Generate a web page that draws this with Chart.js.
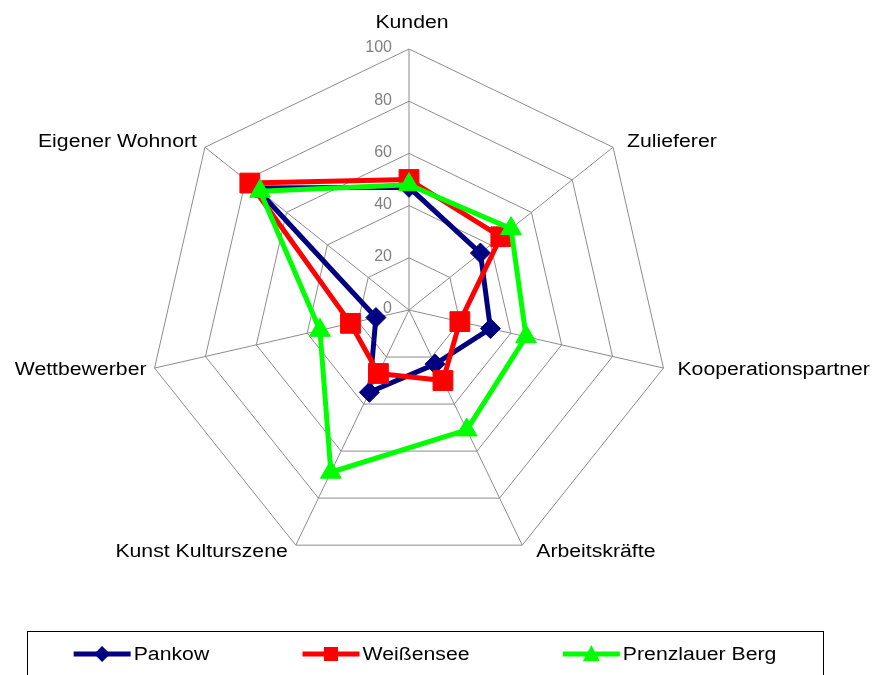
<!DOCTYPE html>
<html><head><meta charset="utf-8">
<script src="https://cdn.jsdelivr.net/npm/chart.js@4.4.0/dist/chart.umd.min.js"></script>
<style>html,body{margin:0;padding:0;background:#fff;} #wrap{width:877px;height:675px;overflow:hidden;}</style>
</head><body><div id="wrap"><canvas id="c" width="877" height="675"></canvas></div>
<script>
const categories = ['Kunden', 'Zulieferer', 'Kooperationspartner', 'Arbeitskräfte', 'Kunst Kulturszene', 'Wettbewerber', 'Eigener Wohnort'];
const seriesNames = ['Pankow', 'Weißensee', 'Prenzlauer Berg'];
const pankow = [47, 35, 32, 23, 35, 13, 75];
const weissensee = [50, 45, 20, 30, 27, 23, 78];
const prenzlauer = [48, 50, 46, 51, 69, 35, 73];
const tickValues = [0, 20, 40, 60, 80, 100];

const FONT = '"Liberation Sans", Arial, sans-serif';
const STRETCH = 1.18;

function drawStretched(ctx, text, x, y, align, sx) {
  const w = ctx.measureText(text).width * sx;
  let left = x;
  if (align === 'center') left = x - w / 2;
  else if (align === 'right') left = x - w;
  ctx.save();
  ctx.translate(left, y);
  ctx.scale(sx, 1);
  ctx.textAlign = 'left';
  ctx.fillText(text, 0, 0);
  ctx.restore();
}

function drawMarker(ctx, style, x, y, r, color) {
  ctx.save();
  ctx.fillStyle = color;
  ctx.beginPath();
  if (style === 'rectRot') {
    ctx.moveTo(x - r, y); ctx.lineTo(x, y - r); ctx.lineTo(x + r, y); ctx.lineTo(x, y + r);
  } else if (style === 'rect') {
    ctx.rect(x - r, y - r, 2 * r, 2 * r);
  } else {
    ctx.moveTo(x, y - r); ctx.lineTo(x + r * 0.95, y + r * 0.8); ctx.lineTo(x - r * 0.95, y + r * 0.8);
  }
  ctx.closePath();
  ctx.fill();
  ctx.restore();
}

const axisTextPlugin = {
  id: 'axisText',
  beforeDatasetsDraw(chart) {
    const s = chart.scales.r;
    const ctx = chart.ctx;
    ctx.save();
    // tick labels
    ctx.font = '16px ' + FONT;
    ctx.fillStyle = '#808080';
    ctx.textAlign = 'right';
    ctx.textBaseline = 'middle';
    s.ticks.forEach(t => {
      const d = s.getDistanceFromCenterForValue(t.value);
      ctx.fillText(String(t.value), s.xCenter - 17, s.yCenter - d - 1);
    });
    // category labels
    ctx.font = '18px ' + FONT;
    ctx.fillStyle = '#000';
    chart.data.labels.forEach((lab, i) => {
      const p = s.getPointPosition(i, s.drawingArea);
      const ux = (p.x - s.xCenter) / s.drawingArea;
      const uy = (p.y - s.yCenter) / s.drawingArea;
      if (Math.abs(ux) < 0.05) {
        ctx.textBaseline = 'alphabetic';
        drawStretched(ctx, lab, p.x + 3, p.y - 21, 'center', STRETCH);
      } else {
        ctx.textBaseline = 'middle';
        const gapX = ux > 0 ? 14 : 8;
        drawStretched(ctx, lab, p.x + Math.sign(ux) * gapX, p.y + uy * 8, ux > 0 ? 'left' : 'right', STRETCH);
      }
    });
    ctx.restore();
  },
  afterDraw(chart) {
    const ctx = chart.ctx;
    const boxL = 27, boxR = 823, boxT = 631, boxB = 700;
    ctx.save();
    ctx.strokeStyle = '#000';
    ctx.lineWidth = 1;
    ctx.strokeRect(boxL + 0.5, boxT + 0.5, boxR - boxL, boxB - boxT);
    ctx.font = '18px ' + FONT;
    ctx.fillStyle = '#000';
    ctx.textBaseline = 'middle';
    const lineLen = 57, gap = 3;
    const items = chart.data.datasets.map(ds => ({ ds, w: lineLen + gap + ctx.measureText(ds.label).width * STRETCH }));
    const total = items.reduce((a, b) => a + b.w, 0);
    const sp = (boxR - boxL - total) / items.length;
    let x = boxL + sp / 2;
    const y = 654;
    items.forEach(it => {
      ctx.strokeStyle = it.ds.borderColor;
      ctx.lineWidth = 5;
      ctx.lineCap = 'butt';
      ctx.beginPath(); ctx.moveTo(x, y); ctx.lineTo(x + lineLen, y); ctx.stroke();
      drawMarker(ctx, it.ds.pointStyle, x + lineLen / 2, y, it.ds.legendMarker, it.ds.borderColor);
      ctx.fillStyle = '#000';
      drawStretched(ctx, it.ds.label, x + lineLen + gap, y + 1, 'left', STRETCH);
      x += it.w + sp;
    });
    ctx.restore();
  }
};

function ds(label, data, color, style, radius, order, legendMarker) {
  return {
    label, data, order, legendMarker,
    borderColor: color, backgroundColor: color,
    pointBackgroundColor: color, pointBorderColor: color,
    pointStyle: style, pointRadius: radius, pointBorderWidth: 1,
    borderWidth: 5, borderJoinStyle: 'round', fill: false
  };
}

new Chart(document.getElementById('c'), {
  type: 'radar',
  data: {
    labels: categories,
    datasets: [
      ds(seriesNames[0], pankow, '#000080', 'rectRot', 10, 3, 8),
      ds(seriesNames[1], weissensee, '#ff0000', 'rect', 14, 2, 7),
      ds(seriesNames[2], prenzlauer, '#00ff00', 'triangle', 12, 1, 9)
    ]
  },
  options: {
    responsive: false,
    animation: false,
    events: [],
    layout: { padding: { left: 148, right: 207, top: 49, bottom: 104 } },
    plugins: { legend: { display: false }, tooltip: { enabled: false } },
    elements: { line: { tension: 0 } },
    scales: {
      r: {
        min: 0, max: 100,
        ticks: { stepSize: 20, display: false },
        afterBuildTicks: (scale) => { scale.ticks = tickValues.map(v => ({ value: v })); },
        grid: { color: '#8c8c8c', lineWidth: 1 },
        angleLines: { color: '#8c8c8c', lineWidth: 1 },
        pointLabels: { display: false }
      }
    }
  },
  plugins: [axisTextPlugin]
});
</script>
</body></html>
